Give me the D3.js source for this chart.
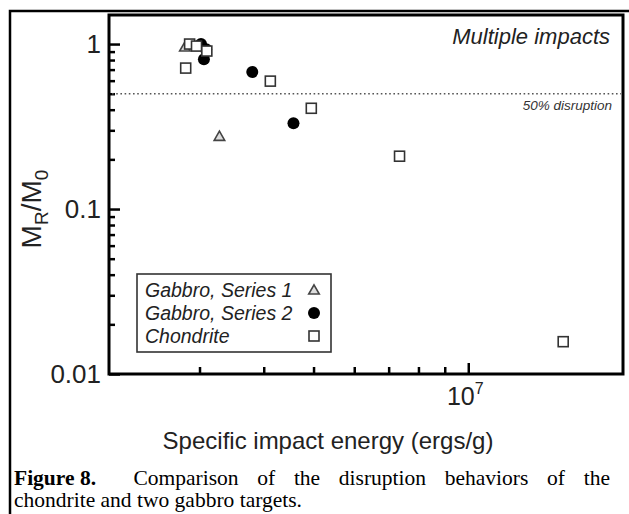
<!DOCTYPE html>
<html>
<head>
<meta charset="utf-8">
<script src="https://cdn.jsdelivr.net/npm/d3@7"></script>
<style>
  body { margin: 0; background: #fff; }
  svg { display: block; }
</style>
</head>
<body>
<script>
'use strict';

// Gabbro, Series 1 (open triangles)
const gabbro1Energy = [2.81e6, 3.28e6];
const gabbro1Ratio = [0.96, 0.276];

// Gabbro, Series 2 (filled circles)
const gabbro2Energy = [3.02e6, 3.09e6, 3.06e6, 3.80e6, 4.57e6];
const gabbro2Ratio = [1.0, 0.93, 0.81, 0.676, 0.331];

// Chondrite (open squares)
const chondriteEnergy = [2.82e6, 2.87e6, 2.96e6, 3.10e6, 4.12e6, 4.95e6, 7.35e6, 1.53e7];
const chondriteRatio = [0.715, 1.0, 0.972, 0.907, 0.596, 0.408, 0.209, 0.0157];

// axes
const xDomain = [2e6, 2e7];
const yDomain = [0.01, 1.5];
const yMajorTicks = [0.01, 0.1, 1];
const yTickLabels = ['0.01', '0.1', '1'];
const xMajorTicks = [1e7];
const disruptionLevel = 0.5;

const legendLabels = ['Gabbro, Series 1', 'Gabbro, Series 2', 'Chondrite'];
const captionLine1 = ['Comparison', 'of', 'the', 'disruption', 'behaviors', 'of', 'the'];
const captionLine2 = 'chondrite and two gabbro targets.';

(function() {

  let svg = null;

  window.onload = function() {
    svg = d3.select('body')
      .append('svg')
      .attr('width', 629)
      .attr('height', 514);

    drawFrame();
    let scales = drawAxes();
    plotData(scales);
    makeLabels();
    makeLegend();
    makeCaption();
  }

  // outer figure frame (left + top) and plot box
  function drawFrame() {
    svg.append('path')
      .attr('d', 'M10,514 V11 H629')
      .attr('fill', 'none')
      .attr('stroke', '#000')
      .attr('stroke-width', 2.5);

    svg.append('rect')
      .attr('x', 109)
      .attr('y', 15)
      .attr('width', 514)
      .attr('height', 359)
      .attr('fill', 'none')
      .attr('stroke', '#000')
      .attr('stroke-width', 3);
  }

  function drawAxes() {
    let xScale = d3.scaleLog().domain(xDomain).range([109, 623]);
    let yScale = d3.scaleLog().domain(yDomain).range([374, 15]);

    // minor ticks = log ticks that are not decades, strictly inside
    let xMinor = xScale.ticks().filter(v => !xMajorTicks.includes(v) && v > xDomain[0] && v < xDomain[1]);
    let yMinor = yScale.ticks().filter(v => !yMajorTicks.some(m => Math.abs(m - v) < 1e-9) && v > yDomain[0]);

    // x axis: ticks point up into the plot
    let xMinorAxis = d3.axisBottom(xScale).tickValues(xMinor).tickSize(-7).tickFormat('');
    let xMajorAxis = d3.axisBottom(xScale).tickValues(xMajorTicks).tickSize(-11).tickFormat('');
    [xMinorAxis, xMajorAxis].forEach(ax => {
      let g = svg.append('g').attr('transform', 'translate(0,374)').call(ax);
      g.select('.domain').remove();
      g.selectAll('line').attr('stroke', '#000').attr('stroke-width', 2.5);
    });

    // y axis: ticks point right into the plot
    let yMinorAxis = d3.axisLeft(yScale).tickValues(yMinor).tickSize(-6).tickFormat('');
    let yMajorAxis = d3.axisLeft(yScale).tickValues(yMajorTicks).tickSize(-11).tickFormat('');
    [yMinorAxis, yMajorAxis].forEach(ax => {
      let g = svg.append('g').attr('transform', 'translate(109,0)').call(ax);
      g.select('.domain').remove();
      g.selectAll('line').attr('stroke', '#000').attr('stroke-width', 2.5);
    });

    // y tick labels
    svg.selectAll('.ylab')
      .data(yMajorTicks)
      .enter()
      .append('text')
        .attr('class', 'ylab')
        .attr('x', 101)
        .attr('y', d => yScale(d) + 9)
        .attr('text-anchor', 'end')
        .style('font-family', 'Liberation Sans, Arial, sans-serif')
        .style('font-size', '26px')
        .attr('fill', '#222')
        .text((d, i) => yTickLabels[i]);

    // x tick label 10^7
    xMajorTicks.forEach(v => {
      let t = svg.append('text')
        .attr('x', xScale(v) - 3)
        .attr('y', 405)
        .attr('text-anchor', 'middle')
        .style('font-family', 'Liberation Sans, Arial, sans-serif')
        .style('font-size', '25px')
        .attr('fill', '#222');
      t.append('tspan').text('10');
      t.append('tspan').attr('dy', -11).style('font-size', '16px').text(Math.round(Math.log10(v)));
    });

    // 50% disruption dotted line
    svg.append('line')
      .attr('x1', 112)
      .attr('x2', 621)
      .attr('y1', yScale(disruptionLevel))
      .attr('y2', yScale(disruptionLevel))
      .attr('stroke', '#555')
      .attr('stroke-width', 1.6)
      .attr('stroke-dasharray', '1.6,2.6');

    return { x: xScale, y: yScale };
  }

  function plotData(s) {
    let gabbro1 = gabbro1Energy.map((e, i) => ({ e: e, r: gabbro1Ratio[i] }));
    let gabbro2 = gabbro2Energy.map((e, i) => ({ e: e, r: gabbro2Ratio[i] }));
    let chondrite = chondriteEnergy.map((e, i) => ({ e: e, r: chondriteRatio[i] }));

    let tri = d3.symbol().type(d3.symbolTriangle).size(48);

    svg.selectAll('.tri')
      .data(gabbro1)
      .enter()
      .append('path')
        .attr('class', 'tri')
        .attr('d', tri)
        .attr('transform', d => 'translate(' + s.x(d.e) + ',' + (s.y(d.r) + 1) + ')')
        .attr('fill', '#ddd')
        .attr('stroke', '#444')
        .attr('stroke-width', 1.6);

    svg.selectAll('.dot')
      .data(gabbro2)
      .enter()
      .append('circle')
        .attr('class', 'dot')
        .attr('cx', d => s.x(d.e))
        .attr('cy', d => s.y(d.r))
        .attr('r', 6)
        .attr('fill', '#000');

    svg.selectAll('.sq')
      .data(chondrite)
      .enter()
      .append('rect')
        .attr('class', 'sq')
        .attr('x', d => s.x(d.e) - 5)
        .attr('y', d => s.y(d.r) - 5)
        .attr('width', 10)
        .attr('height', 10)
        .attr('fill', '#fff')
        .attr('stroke', '#333')
        .attr('stroke-width', 1.6);
  }

  function makeLabels() {
    svg.append('text')
      .attr('x', 610)
      .attr('y', 44)
      .attr('text-anchor', 'end')
      .style('font-family', 'Liberation Sans, Arial, sans-serif')
      .style('font-size', '22px')
      .style('font-style', 'italic')
      .attr('fill', '#222')
      .text('Multiple impacts');

    svg.append('text')
      .attr('x', 612)
      .attr('y', 110)
      .attr('text-anchor', 'end')
      .style('font-family', 'Liberation Sans, Arial, sans-serif')
      .style('font-size', '13.5px')
      .style('font-style', 'italic')
      .attr('fill', '#333')
      .text('50% disruption');

    svg.append('text')
      .attr('x', 328)
      .attr('y', 449)
      .attr('text-anchor', 'middle')
      .style('font-family', 'Liberation Sans, Arial, sans-serif')
      .style('font-size', '24px')
      .attr('fill', '#222')
      .text('Specific impact energy (ergs/g)');

    // M_R / M_0 rotated
    let yl = svg.append('text')
      .attr('transform', 'translate(41,209) rotate(-90)')
      .attr('text-anchor', 'middle')
      .style('font-family', 'Liberation Sans, Arial, sans-serif')
      .style('font-size', '28px')
      .attr('fill', '#222');
    yl.append('tspan').text('M');
    yl.append('tspan').attr('dy', 7).style('font-size', '19px').text('R');
    yl.append('tspan').attr('dy', -7).text('/M');
    yl.append('tspan').attr('dy', 7).style('font-size', '19px').text('0');
  }

  function makeLegend() {
    svg.append('rect')
      .attr('x', 137)
      .attr('y', 274)
      .attr('width', 194)
      .attr('height', 78)
      .attr('fill', '#fff')
      .attr('stroke', '#333')
      .attr('stroke-width', 1.6);

    let rows = [290, 313, 336];

    legendLabels.forEach((label, i) => {
      svg.append('text')
        .attr('x', 145)
        .attr('y', rows[i] + 7)
        .style('font-family', 'Liberation Sans, Arial, sans-serif')
        .style('font-size', '19.5px')
        .style('font-style', 'italic')
        .attr('fill', '#222')
        .text(label);
    });

    svg.append('path')
      .attr('d', d3.symbol().type(d3.symbolTriangle).size(48))
      .attr('transform', 'translate(314,' + (rows[0] + 1) + ')')
      .attr('fill', '#ddd')
      .attr('stroke', '#444')
      .attr('stroke-width', 1.6);

    svg.append('circle')
      .attr('cx', 314)
      .attr('cy', rows[1])
      .attr('r', 6)
      .attr('fill', '#000');

    svg.append('rect')
      .attr('x', 309)
      .attr('y', rows[2] - 5)
      .attr('width', 10)
      .attr('height', 10)
      .attr('fill', '#fff')
      .attr('stroke', '#333')
      .attr('stroke-width', 1.6);
  }

  // caption under the figure, first line justified
  function makeCaption() {
    let font = 'Liberation Serif, Times New Roman, serif';
    let size = '21.5px';
    let left = 14, right = 610, base1 = 485, base2 = 507;

    let head = svg.append('text')
      .attr('x', left)
      .attr('y', base1)
      .style('font-family', font)
      .style('font-size', size)
      .style('font-weight', 'bold')
      .text('Figure 8.');

    let words = captionLine1.map(w => svg.append('text')
      .attr('y', base1)
      .style('font-family', font)
      .style('font-size', size)
      .text(w));

    let headW = head.node().getComputedTextLength();
    let widths = words.map(w => w.node().getComputedTextLength());
    let total = headW + d3.sum(widths);
    // first gap counts twice (two spaces after the figure number)
    let gap = (right - left - total) / (words.length + 1);
    let x = left + headW + 2 * gap;
    words.forEach((w, i) => {
      w.attr('x', x);
      x += widths[i] + gap;
    });

    svg.append('text')
      .attr('x', left)
      .attr('y', base2)
      .style('font-family', font)
      .style('font-size', size)
      .text(captionLine2);
  }
})();
</script>
</body>
</html>
